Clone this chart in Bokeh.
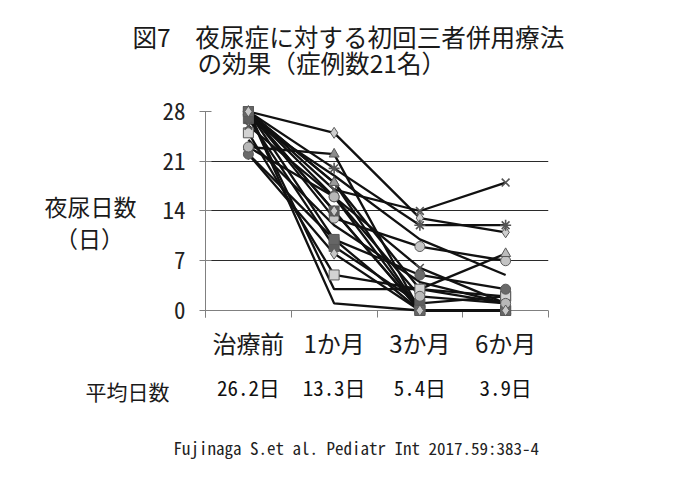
from bokeh.plotting import figure
from bokeh.models import Range1d, FixedTicker, Span
from bokeh.core.properties import value
from bokeh.embed import file_html
from bokeh.resources import INLINE

# ---------------- data ----------------
categories = ["治療前", "1か月", "3か月", "6か月"]
mean_days = ["26.2", "13.3", "5.4", "3.9"]
y_ticks = [0, 7, 14, 21, 28]

# nocturnal enuresis days per patient (21 patients) at each time point
pre    = [28, 28, 23, 28, 28, 28, 28, 27, 27, 22, 25, 28, 28, 22, 28, 26, 28, 28, 23, 28, 24]
month1 = [25, 17, 22, 20, 13, 18, 16, 19,  9,  8,  5,  3,  1, 10, 14, 16, 18, 10, 16, 14, 12]
month3 = [13, 14,  0, 12,  9,  3,  0, 10,  1,  0,  3,  3,  0,  5,  0,  6,  0,  0,  2,  0,  4]
month6 = [11, 18,  0, 12,  7,  8,  0,  5,  2,  0,  2,  1,  0,  3,  0,  1,  0,  0,  1,  0,  1]
markers = ["diamond", "x", "triangle", "asterisk", "circle", "triangle", "circle",
           None, "square", "diamond", "square", None, None, "circle", "square",
           "x", "triangle", "square", "circle", "diamond", None]
fills = ["#cfcfcf", "#555555", "#8c8c8c", "#555555", "#c4c4c4", "#bdbdbd", "#6e6e6e",
         None, "#5e5e5e", "#c8c8c8", "#d2d2d2", None, None, "#6a6a6a", "#5a5a5a",
         "#555555", "#9a9a9a", "#666666", "#b8b8b8", "#c8c8c8", None]

JP = "Noto Sans CJK JP"
MONO = "'Noto Sans Mono CJK JP', 'Liberation Mono', monospace"

xs = [i + 0.5 for i in range(len(categories))]

p = figure(width=670, height=469, output_backend="svg", toolbar_location=None,
           x_range=Range1d(0, len(categories)), y_range=Range1d(-0.985, 28),
           min_border_left=205, min_border_right=122, min_border_top=111,
           min_border_bottom=152)
p.outline_line_color = None
p.background_fill_color = "white"
p.border_fill_color = "white"

# grid
p.xgrid.visible = False
p.ygrid.ticker = FixedTicker(ticks=[t for t in y_ticks if t > 0])
p.ygrid.grid_line_color = "#2a2a2a"
p.ygrid.grid_line_width = 1.2

# y axis
p.yaxis.ticker = FixedTicker(ticks=y_ticks)
p.yaxis.major_tick_in = 6
p.yaxis.major_tick_out = 6
p.yaxis.minor_tick_line_color = None
p.yaxis.axis_line_color = "#808080"
p.yaxis.major_tick_line_color = "#808080"
p.yaxis.major_label_text_font = MONO
p.yaxis.major_label_text_font_size = "23px"
p.yaxis.major_label_text_color = "#222222"
p.yaxis.major_label_standoff = 14

# x axis (category boundary ticks only)
p.xaxis.ticker = FixedTicker(ticks=list(range(len(categories) + 1)))
p.xaxis.major_tick_in = 7
p.xaxis.major_tick_out = 0
p.xaxis.minor_tick_line_color = None
p.xaxis.axis_line_color = None
p.xaxis.major_tick_line_color = "#808080"
p.xaxis.major_label_text_color = None

baseline = Span(location=0, dimension="width", line_color="#808080", line_width=1.2,
                level="underlay")
p.add_layout(baseline)

# patient lines
for i in range(len(pre)):
    vals = [pre[i], month1[i], month3[i], month6[i]]
    r = p.line(xs, vals, line_color="#111111", line_width=2.3)
    r.level = "overlay"
for i in range(len(pre)):
    vals = [pre[i], month1[i], month3[i], month6[i]]
    if markers[i] is None:
        continue
    mk = markers[i]
    if mk in ("x", "asterisk"):
        r = p.scatter(xs, vals, marker=mk, size=11, line_color=fills[i], line_width=1.6)
    else:
        r = p.scatter(xs, vals, marker=mk, size=10 if mk != "diamond" else 11,
                      fill_color=fills[i], line_color="#5a5a5a", line_width=1)
    r.level = "overlay"


def txt(x, y, text, font, size, align="center", color="#1a1a1a"):
    r = p.text(x=x, y=y, text=text, text_font=value(font), text_font_size=value(size),
               text_align=align, text_baseline="middle", text_color=color)
    r.level = "overlay"
    return r


# category labels (below the axis)
txt(xs, [-4.5] * len(xs), categories, JP, "24px")
# mean row
txt(xs, [-10.83] * len(xs), [m + "日" for m in mean_days], MONO, "21px", color="#111111")
txt([-0.91], [-11.26], ["平均日数"], JP, "21px")
# y-axis title (horizontal)
txt([-1.341], [14.77], ["夜尿日数"], JP, "23px")
txt([-1.353], [10.27], ["（日）"], JP, "23px")
# title
txt([-0.851], [38.69], ["図7　夜尿症に対する初回三者併用療法"], JP, "24.6px", align="left")
txt([-0.093], [34.9], ["の効果（症例数21名）"], JP, "24.6px", align="left")
# source footnote
txt([-0.373], [-19.28], ["Fujinaga S.et al. Pediatr Int 2017.59:383-4"], MONO, "17px",
    align="left", color="#222222")

open("out.html", "w").write(file_html(p, INLINE))
